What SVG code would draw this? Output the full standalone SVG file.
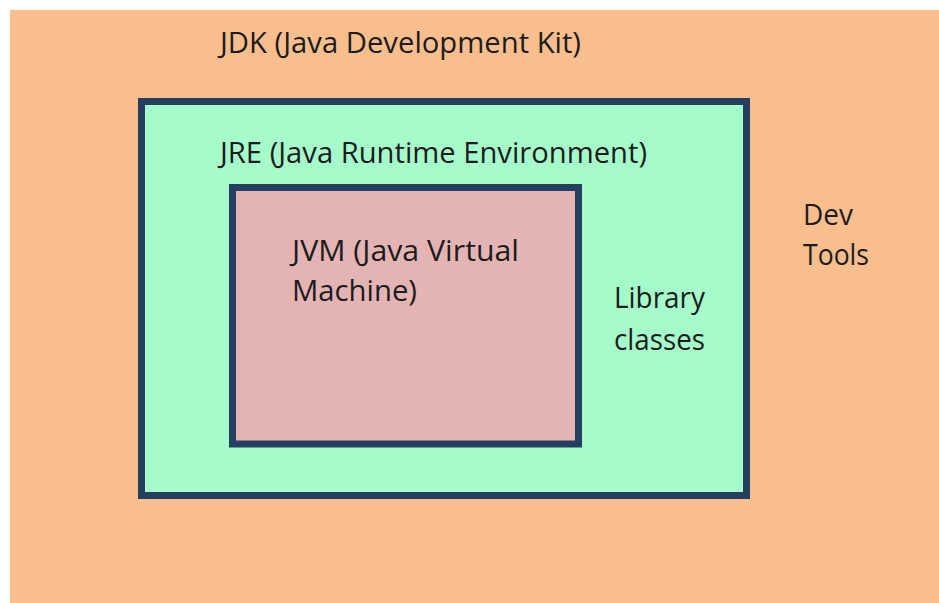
<svg xmlns="http://www.w3.org/2000/svg" width="939" height="603" viewBox="0 0 939 603">
  <style>
    .box { stroke: #243f60; stroke-width: 7; }
    .label { font-family: "Open Sans", "Noto Sans", "Liberation Sans", sans-serif; font-size: 29px; fill: #1c1c1c; }
  </style>
  <rect x="0" y="0" width="939" height="603" fill="#ffffff"/>

  <!-- JDK: outer area -->
  <g id="jdk">
    <rect x="10" y="10" width="929" height="593" fill="#f8be8e"/>
    <text class="label" x="220" y="53" textLength="361" lengthAdjust="spacingAndGlyphs">JDK (Java Development Kit)</text>
    <text class="label" x="803" y="225" textLength="50" lengthAdjust="spacingAndGlyphs">Dev</text>
    <text class="label" x="803" y="265" textLength="66" lengthAdjust="spacingAndGlyphs">Tools</text>
  </g>

  <!-- JRE: runtime box -->
  <g id="jre">
    <rect class="box" x="141.5" y="101.5" width="605" height="394" fill="#a6fbcb"/>
    <text class="label" x="220" y="163" textLength="427" lengthAdjust="spacingAndGlyphs">JRE (Java Runtime Environment)</text>
    <text class="label" x="614" y="308" textLength="91" lengthAdjust="spacingAndGlyphs">Library</text>
    <text class="label" x="614" y="350" textLength="91" lengthAdjust="spacingAndGlyphs">classes</text>
  </g>

  <!-- JVM: innermost box -->
  <g id="jvm">
    <rect class="box" x="232.5" y="187.5" width="346" height="256.5" fill="#e4b4b4"/>
    <text class="label" x="292" y="261" textLength="227" lengthAdjust="spacingAndGlyphs">JVM (Java Virtual</text>
    <text class="label" x="292" y="301" textLength="125" lengthAdjust="spacingAndGlyphs">Machine)</text>
  </g>

  <g id="connectors"/>
</svg>
